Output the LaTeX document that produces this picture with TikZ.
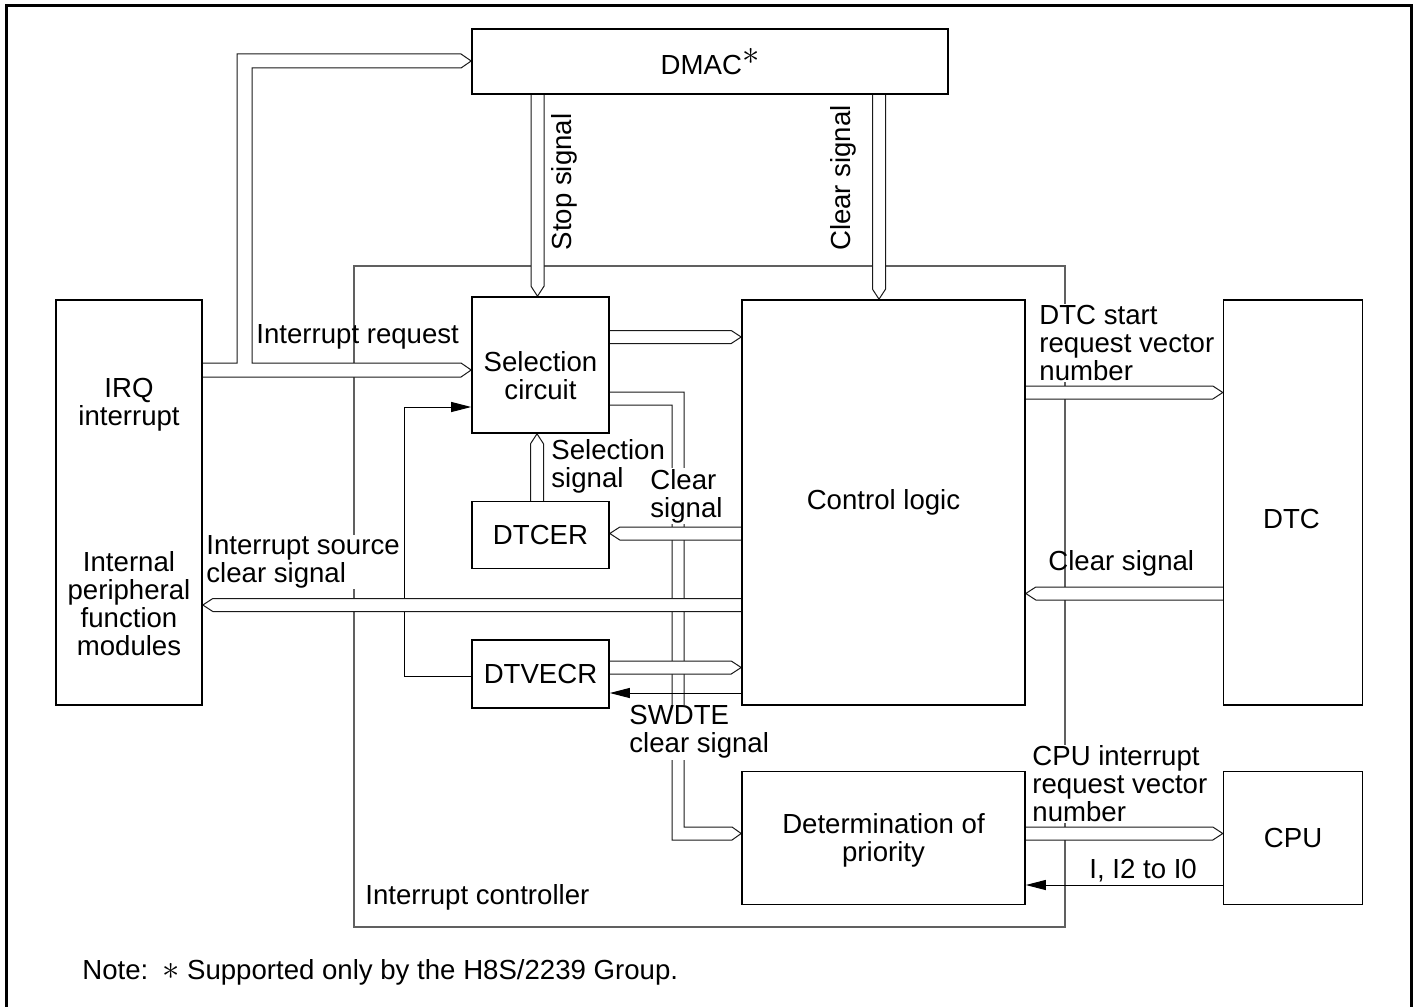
\documentclass[tikz,border=0pt]{standalone}
\usepackage{fontspec}
\setmainfont{Liberation Sans}
\usepackage{xcolor}
\usepackage{tikz}
\usetikzlibrary{positioning, arrows.meta, calc}
\definecolor{framegray}{HTML}{606060}
\definecolor{busink}{HTML}{1A1A1A}
\pgfdeclarelayer{front}
\pgfsetlayers{main,front}
\newcommand{\diagfont}{\fontsize{13.8pt}{14pt}\selectfont}
\newcommand{\noteast}{{\fontsize{16pt}{16pt}\selectfont$\ast$}}
% horizontal bus: start anchor, tip anchor, y, direction (1 right, -1 left)
\newcommand{\hbus}[4]{%
  \coordinate (busA) at (#1 |- 0,#3);
  \coordinate (busB) at (#2 |- 0,#3);
  \draw[bus] ($(busA)+(0,-6.5)$) -- ($(busB)+(-10*#4,-6.5)$)
    -- (busB) -- ($(busB)+(-10*#4,6.5)$) -- ($(busA)+(0,6.5)$);}
% vertical bus: start anchor, tip anchor, x, direction (1 down, -1 up)
\newcommand{\vbus}[4]{%
  \coordinate (busA) at (#1 -| #3,0);
  \coordinate (busB) at (#2 -| #3,0);
  \draw[bus] ($(busA)+(-6.5,0)$) -- ($(busB)+(-6.5,-10*#4)$)
    -- (busB) -- ($(busB)+(6.5,-10*#4)$) -- ($(busA)+(6.5,0)$);}

\begin{document}
\begin{tikzpicture}[
  x=0.5pt, y=-0.5pt,
  box/.style={draw, line width=0.8pt, fill=white, inner sep=0pt, align=center, font=\diagfont},
  boxtext/.style={font=\diagfont, align=center},
  bus/.style={draw=busink, line width=0.5pt, fill=white, line join=miter},
  sig/.style={draw=black, line width=0.5pt, -{Triangle[length=10pt, width=5pt]}},
  lbl/.style={font=\diagfont, align=left, inner sep=0.5pt},
  lblw/.style={lbl, fill=white},
  ctrlframe/.style={draw=framegray, line width=0.6pt}
]
\useasboundingbox (0,0) rectangle (1417,1006);
\draw[line width=1.5pt] (6,1010) -- (6,6) -- (1411,6) -- (1411,1010);

% blocks
\begin{pgfonlayer}{front}
\node[box, minimum width=73pt, minimum height=202.5pt] (irq) at (129,502.5) {};
\node[boxtext] (irqtxt) at (129,405) {IRQ\\interrupt};
\node[boxtext] (periphtxt) at (129,604) {Internal\\peripheral\\function\\modules};
\node[box, minimum width=238pt, minimum height=32.5pt] (dmac) at (710,61.5)
  {DMAC\raisebox{0.7ex}{\noteast}};
\node[box, minimum width=68.5pt, minimum height=68pt] (sel) at (540.5,365) {};
\node[boxtext] (seltxt) at (540.5,376) {Selection\\circuit};
\node[box, minimum width=68.5pt, minimum height=33.5pt, below=33.5pt of sel] (dtcer) {DTCER};
\node[box, minimum width=68.5pt, minimum height=34pt, below=35pt of dtcer] (dtvecr) {DTVECR};
\node[box, minimum width=141.5pt, minimum height=202.5pt] (ctrl) at (883.5,502.5) {Control logic};
\node[box, minimum width=69.5pt, minimum height=202.5pt, right=98.5pt of ctrl] (dtc) {};
\node[boxtext] (dtctxt) at (1291.5,519) {DTC};
\node[box, minimum width=141.5pt, minimum height=66.5pt, below=32.5pt of ctrl] (prio) {};
\node[boxtext] (priotxt) at (883.5,840) {Determination of\\priority};
\node[box, minimum width=69.5pt, minimum height=66.5pt] (cpu) at (dtc |- prio) {CPU};
\end{pgfonlayer}

% interrupt controller boundary
\draw[ctrlframe] (354,266) rectangle (1065,927);

% buses under the crossing ones
\draw[bus] (sel.east |- 0,392) -- (684,392) -- (684,827) -- (732,827) -- (prio.west |- 0,833.5)
  -- (732,840) -- (672,840) -- (672,405) -- (sel.east |- 0,405);
\draw[bus] (irq.east |- 0,363) -- (237,363) -- (237,54) -- (461,54) -- (dmac.west |- 0,61)
  -- (461,68) -- (252,68) -- (252,363) -- (461,363) -- (sel.west |- 0,370) -- (461,377) -- (irq.east |- 0,377);
\vbus{dmac.south}{sel.north}{537.5}{1}
\vbus{dmac.south}{ctrl.north}{879}{1}
\vbus{dtcer.north}{sel.south}{537}{-1}

% single lines
\draw[sig] (ctrl.west |- 0,693) -- (dtvecr.east |- 0,693);
\draw[sig] (dtvecr.west |- 0,676) -- (404,676) -- (404,407) -- (sel.west |- 0,407);
\draw[sig] (cpu.west |- 0,885) -- (prio.east |- 0,885);

% horizontal buses
\hbus{sel.east}{ctrl.west}{337}{1}
\hbus{ctrl.west}{dtcer.east}{533.5}{-1}
\hbus{ctrl.west}{irq.east}{605}{-1}
\hbus{dtvecr.east}{ctrl.west}{667.5}{1}
\hbus{ctrl.east}{dtc.west}{392.5}{1}
\hbus{dtc.west}{ctrl.east}{593.5}{-1}
\hbus{prio.east}{cpu.west}{833.5}{1}

% labels
\node[lbl, anchor=west] (irqlbl) at (255,337) {Interrupt request};
\node[lbl, rotate=90] (stoplbl) at (564,182) {Stop signal};
\node[lbl, rotate=90] (dclrlbl) at (843,178) {Clear signal};
\node[lbl, anchor=west] (sellbl) at (550,466) {Selection\\signal};
\node[lblw, anchor=west] (erclrlbl) at (649,496) {Clear\\signal};
\node[lblw, anchor=west] (srclbl) at (205,562) {Interrupt source\\clear signal};
\node[lblw, anchor=west] (swlbl) at (628,732) {SWDTE\\clear signal};
\node[lblw, anchor=west] (dtcreqlbl) at (1038,343) {DTC start\\request vector\\number};
\node[lbl, anchor=west] (dtcclrlbl) at (1047,563) {Clear signal};
\node[lblw, anchor=west] (cpureqlbl) at (1031,784) {CPU interrupt\\request vector\\number};
\node[lbl, anchor=west] (iprlbl) at (1088,871) {I, I2 to I0};
\node[lbl, anchor=west] (intclbl) at (364,897) {Interrupt controller};
\node[lbl, anchor=west] (notelbl) at (81,972) {Note:\enspace\noteast\ Supported only by the H8S/2239 Group.};
\end{tikzpicture}
\end{document}
